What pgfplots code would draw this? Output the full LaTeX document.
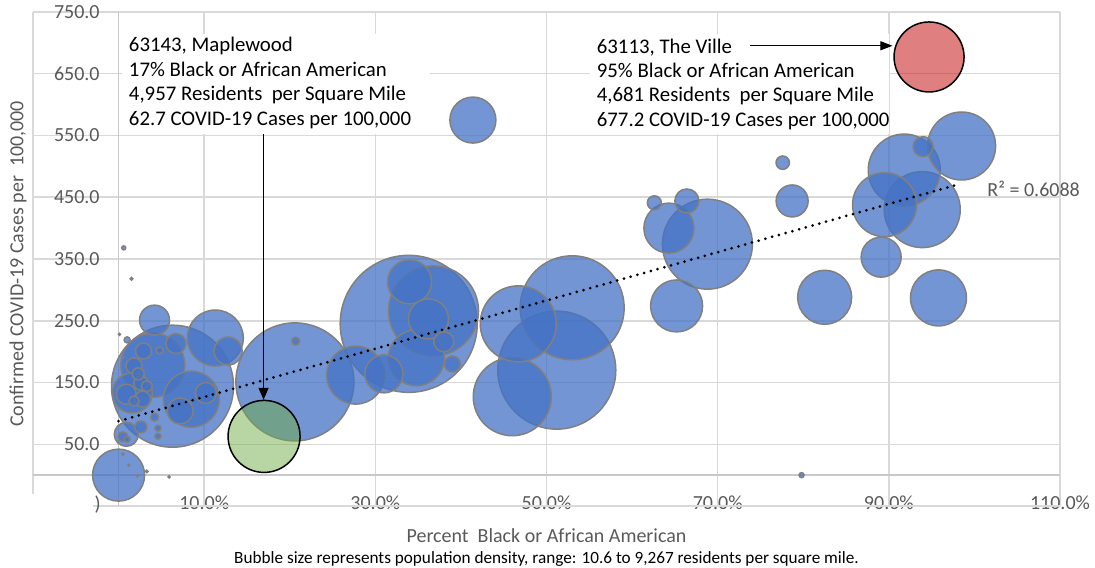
\documentclass[border=0pt]{standalone}
\usepackage{fontspec}
\setmainfont{Carlito}
\usepackage{pgfplots}
\usepackage{pgfplotstable}
\pgfplotsset{compat=1.18}
\usetikzlibrary{arrows.meta}

\definecolor{bub}{HTML}{4472C4}
\definecolor{bubedge}{HTML}{808080}
\definecolor{gridc}{HTML}{D9D9D9}
\definecolor{zeroc}{HTML}{C8C8C8}
\definecolor{txtgray}{HTML}{595959}
\definecolor{ville}{HTML}{C00000}
\definecolor{maple}{HTML}{70AD47}

% percent black, cases per 100k, bubble radius (px of the original)
\pgfplotstableread{
x     y     r
33.9  245   68.5
6.3   144   61
51.2  170   59
20.6  151   59
53.0  271   52
36.8  266   45
68.8  374   45
46.0  127   39
46.7  245   38
93.9  430   38
91.8  494   36
98.5  533   34
4.0   178   32
89.5  438   32
27.7  162   29
11.3  222   28
34.8  190   28
8.5   123   28
95.8  287   28
82.5  288   27
0.0   0     26
65.2  274   26
64.3  400   25
41.4  575   23
34.0  313   22
1.6   133   20
89.1  353   20
36.2  253   20
31.0  164   19
78.7  444   16
4.2   251   15
12.8  201   14
7.2   104   13
66.4  444   12
0.9   66    12
10.2  133   10.5
0.9   131   10
38.0  216   10
94.0  532   10
6.7   213   10
39.0  180   8
2.9   201   8
1.8   177   8
2.8   123   8
62.6  441   7
2.6   149   7
77.6  506   6.7
2.3   164   6
2.6   78    6
3.3   144   5.5
1.8   120   5
0.5   62    5
4.2   94    4
20.7  217   4
4.8   202   3.5
4.6   76    3
4.6   63    3
1.0   219   3
1.0   58    3
79.8  0     2.5
0.6   368   2
1.5   318   1.3
0.5   191   1
0.1   228   1
0.5   34    1
1.2   16    1
2.2   -1    1
3.3   6     1.2
5.9   -3    1
}\bubbles

\begin{document}
\begin{tikzpicture}
\path[use as bounding box] (0,0) rectangle (547.5pt,283.5pt);
\begin{axis}[
  at={(16.5pt,30.5pt)}, anchor=south west,
  scale only axis, width=513.5pt, height=247pt,
  xmin=-10, xmax=110, ymin=-50, ymax=750,
  xtick={10,30,...,110}, ytick={50,150,...,750},
  extra x ticks={-10}, extra x tick labels={},
  extra y ticks={-50}, extra y tick labels={},
  grid=major, major grid style={gridc, line width=0.75pt},
  axis line style={draw=none}, major tick length=0pt,
  /pgf/number format/assume math mode=true,
  ticklabel style={font=\fontsize{10}{12}\selectfont, text=txtgray},
  xticklabel={\pgfmathprintnumber[fixed,fixed zerofill,precision=1]{\tick}\%},
  yticklabel={\pgfmathprintnumber[fixed,fixed zerofill,precision=1]{\tick}},
  xticklabel style={anchor=center, yshift=1.5pt},
  yticklabel style={anchor=east, inner sep=0pt, xshift=33.5pt},
  xlabel={Percent\ \ Black or African American},
  ylabel={Confirmed COVID-19 Cases per\ \ 100,000},
  label style={font=\fontsize{10}{12}\selectfont, text=txtgray},
  xlabel style={at={(axis description cs:0.5,-0.0729)}, anchor=base},
  ylabel style={at={(axis description cs:-0.0146,0.49)}, anchor=center},
  clip=false, clip marker paths=true,
]
% zero lines
\addplot[zeroc, line width=0.75pt] coordinates {(-10,0) (110,0)};
\addplot[zeroc, line width=0.75pt] coordinates {(0,-50) (0,750)};

% cut corner where the first label is hidden
\fill[white] (axis cs:-10.5,-30.8) rectangle (axis cs:-3.0,-61.6);
\node[text=txtgray, font=\fontsize{10}{12}\selectfont] at (axis cs:-2.45,-47) {)};

% bubbles
\addplot[scatter, only marks, mark=*,
  scatter/use mapped color={draw=bubedge, fill=bub},
  mark options={line width=0.75pt, fill opacity=0.75},
  visualization depends on={0.5*\thisrow{r} \as \rr},
  scatter/@pre marker code/.append style={/tikz/mark size=\rr pt},
] table[x=x, y=y] {\bubbles};

% highlighted zip codes
\addplot[only marks, mark=*, mark size=18pt,
  mark options={draw=black, line width=0.75pt, fill=maple, fill opacity=0.5}]
  coordinates {(17.0,62.7)};
\addplot[only marks, mark=*, mark size=17.5pt,
  mark options={draw=black, line width=0.75pt, fill=ville, fill opacity=0.5}]
  coordinates {(94.7,677.2)};

% trendline
\addplot[black, line width=1.5pt, line cap=round, dash pattern=on 0pt off 3.5pt]
  coordinates {(0,87.5) (97.9,470)};
\node[anchor=base west, text=txtgray, font=\fontsize{10}{12}\selectfont]
  at (axis cs:100.7,452) {R² = 0.6088};

% callouts
\fill[white] (axis cs:0.35,714.7) rectangle (axis cs:36.4,552.7);
\fill[white] (axis cs:55.1,714.7) rectangle (axis cs:90.0,552.7);
\begin{scope}[every node/.style={anchor=base west, inner sep=0pt, font=\fontsize{10.4}{12}\selectfont}]
\node at (axis cs:1.17,685.6) {63143, Maplewood};
\node at (axis cs:1.17,645.1) {17\% Black or African American};
\node at (axis cs:1.17,606.2) {4,957 Residents\ \ per Square Mile};
\node at (axis cs:1.17,565.6) {62.7 COVID-19 Cases per 100,000};
\node at (axis cs:55.84,682.8) {63113, The Ville};
\node at (axis cs:55.84,644.2) {95\% Black or African American};
\node at (axis cs:55.84,604.9) {4,681 Residents\ \ per Square Mile};
\node at (axis cs:55.84,565.0) {677.2 COVID-19 Cases per 100,000};
\end{scope}
\draw[black, line width=0.5pt, -{Triangle[length=6pt,width=5pt]}]
  (axis cs:16.94,552.7) -- (axis cs:16.94,122);
\draw[black, line width=0.5pt, -{Triangle[length=6pt,width=4.5pt]}]
  (axis cs:73.83,695.3) -- (axis cs:90.42,695.3);

% caption
\node[anchor=base, font=\fontsize{8.6}{10}\selectfont]
  at (axis description cs:0.5,-0.1154)
  {Bubble size represents population density, range: 10.6 to 9,267 residents per square mile.};
\end{axis}
\end{tikzpicture}
\end{document}
